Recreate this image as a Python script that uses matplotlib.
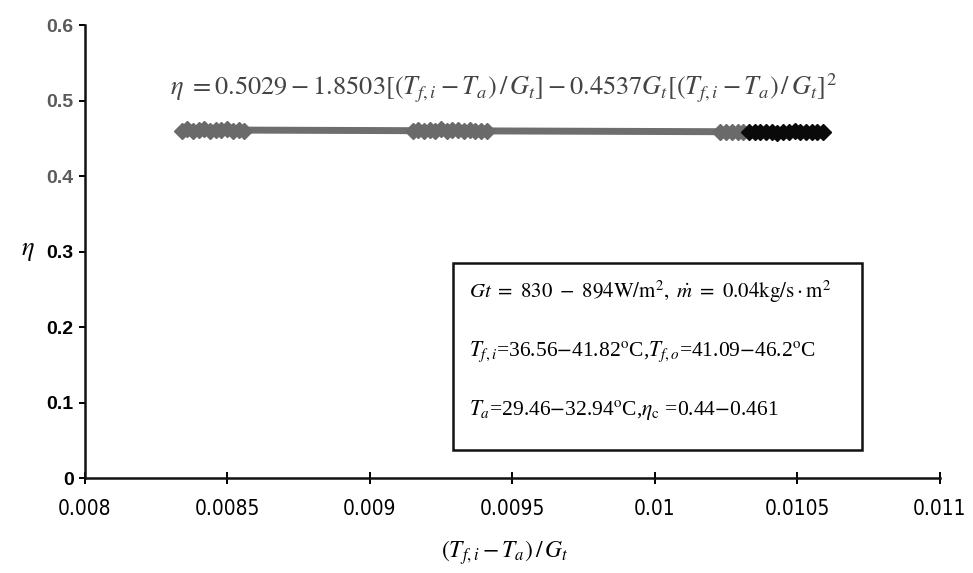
import matplotlib
matplotlib.use("Agg")
import matplotlib.pyplot as plt
from matplotlib.patches import Rectangle
import numpy as np

plt.rcParams['mathtext.fontset'] = 'stix'

# ---- data ----
x_gray = [0.00834, 0.00836, 0.00838, 0.00840, 0.00842, 0.00844, 0.00846, 0.00848,
          0.00850, 0.00852, 0.00854, 0.00856,
          0.00915, 0.00917, 0.00919, 0.00921, 0.00923, 0.00925, 0.00927, 0.00929,
          0.00931, 0.00933, 0.00935, 0.00937, 0.00939, 0.00941,
          0.01023, 0.01025, 0.01027, 0.01029, 0.01031]
y_gray = [0.4605, 0.4620, 0.4600, 0.4615, 0.4625, 0.4602, 0.4618, 0.4610,
          0.4622, 0.4598, 0.4612, 0.4600,
          0.4595, 0.4610, 0.4600, 0.4615, 0.4598, 0.4620, 0.4605, 0.4612,
          0.4618, 0.4600, 0.4608, 0.4596, 0.4604, 0.4600,
          0.4585, 0.4592, 0.4580, 0.4590, 0.4586]
x_black = [0.01033, 0.01035, 0.01037, 0.01039, 0.01041, 0.01043, 0.01045, 0.01047,
           0.01049, 0.01051, 0.01053, 0.01055, 0.01057, 0.01059]
y_black = [0.4588, 0.4580, 0.4592, 0.4584, 0.4590, 0.4579, 0.4589, 0.4586,
           0.4594, 0.4582, 0.4590, 0.4584, 0.4592, 0.4586]

x_ticks = [0.008, 0.0085, 0.009, 0.0095, 0.01, 0.0105, 0.011]
x_ticklabels = ['0.008', '0.0085', '0.009', '0.0095', '0.01', '0.0105', '0.011']
y_ticks = [0, 0.1, 0.2, 0.3, 0.4, 0.5, 0.6]
y_ticklabels = ['0', '0.1', '0.2', '0.3', '0.4', '0.5', '0.6']

fig = plt.figure(figsize=(9.73, 5.73), dpi=100)
ax = fig.add_axes([0.087, 0.165, 0.879, 0.791])

# trend line
all_x = np.array(x_gray + x_black)
all_y = np.array(y_gray + y_black)
coef = np.polyfit(all_x, all_y, 1)
xl = np.array([min(all_x), max(all_x)])
ax.plot(xl, np.polyval(coef, xl), color='#6e6e6e', lw=5, zorder=2, solid_capstyle='butt')

ax.plot(x_gray, y_gray, linestyle='none', marker='D', ms=8, color='#6a6a6a',
        mec='#6a6a6a', zorder=3)
ax.plot(x_black, y_black, linestyle='none', marker='D', ms=8, color='#0a0a0a',
        mec='#0a0a0a', zorder=4)

ax.set_xlim(0.008, 0.011)
ax.set_ylim(0, 0.6)
ax.set_xticks(x_ticks)
ax.set_xticklabels(x_ticklabels, family='DejaVu Sans', stretch='condensed',
                   fontsize=15)
ax.set_yticks(y_ticks)
ax.set_yticklabels(y_ticklabels, family='Liberation Sans', fontsize=14, weight='bold')
for lab, v in zip(ax.get_yticklabels(), y_ticks):
    if v >= 0.4:
        lab.set_color('#5a5a5a')

for s in ['top', 'right']:
    ax.spines[s].set_visible(False)
for s in ['left', 'bottom']:
    ax.spines[s].set_linewidth(1.8)
    ax.spines[s].set_color('#111111')
ax.tick_params(axis='x', direction='inout', length=8, width=1.4, pad=11)
ax.tick_params(axis='y', direction='out', length=4, width=1.4, pad=4)

# equation
fig.text(0.517, 0.846,
         r'$\eta\ =0.5029-1.8503[(T_{f,i}-T_a)\,/\,G_t]-0.4537G_t[(T_{f,i}-T_a)\,/\,G_t]^2$',
         ha='center', va='center', fontsize=19, color='#444444')

# axis labels
fig.text(0.029, 0.564, r'$\eta$', ha='center', va='center', fontsize=19)
fig.text(0.519, 0.036, r'$(T_{f,i}-T_a)\,/\,G_t$', ha='center', va='center', fontsize=17)

# info box
fig.patches.append(Rectangle((0.466, 0.215), 0.420, 0.326, transform=fig.transFigure,
                             fill=False, lw=1.8, ec='#111111'))
fig.text(0.482, 0.490,
         r'$Gt\ =\ 830\ -\ 894\mathrm{W/m}^{2},\ \dot{m}\ =\ 0.04\mathrm{kg/s}\cdot\mathrm{m}^{2}$',
         ha='left', va='center', fontsize=15)
fig.text(0.482, 0.386,
         r'$T_{f,i}$=36.56$-$41.82$^{\mathrm{o}}$C,$T_{f,o}$=41.09$-$46.2$^{\mathrm{o}}$C',
         ha='left', va='center', fontsize=15.5, family='Liberation Serif')
fig.text(0.482, 0.284,
         r'$T_{a}$=29.46$-$32.94$^{\mathrm{o}}$C,$\eta_{\mathrm{c}}$ =0.44$-$0.461',
         ha='left', va='center', fontsize=15.5, family='Liberation Serif')

fig.savefig('out.png', dpi=100)
